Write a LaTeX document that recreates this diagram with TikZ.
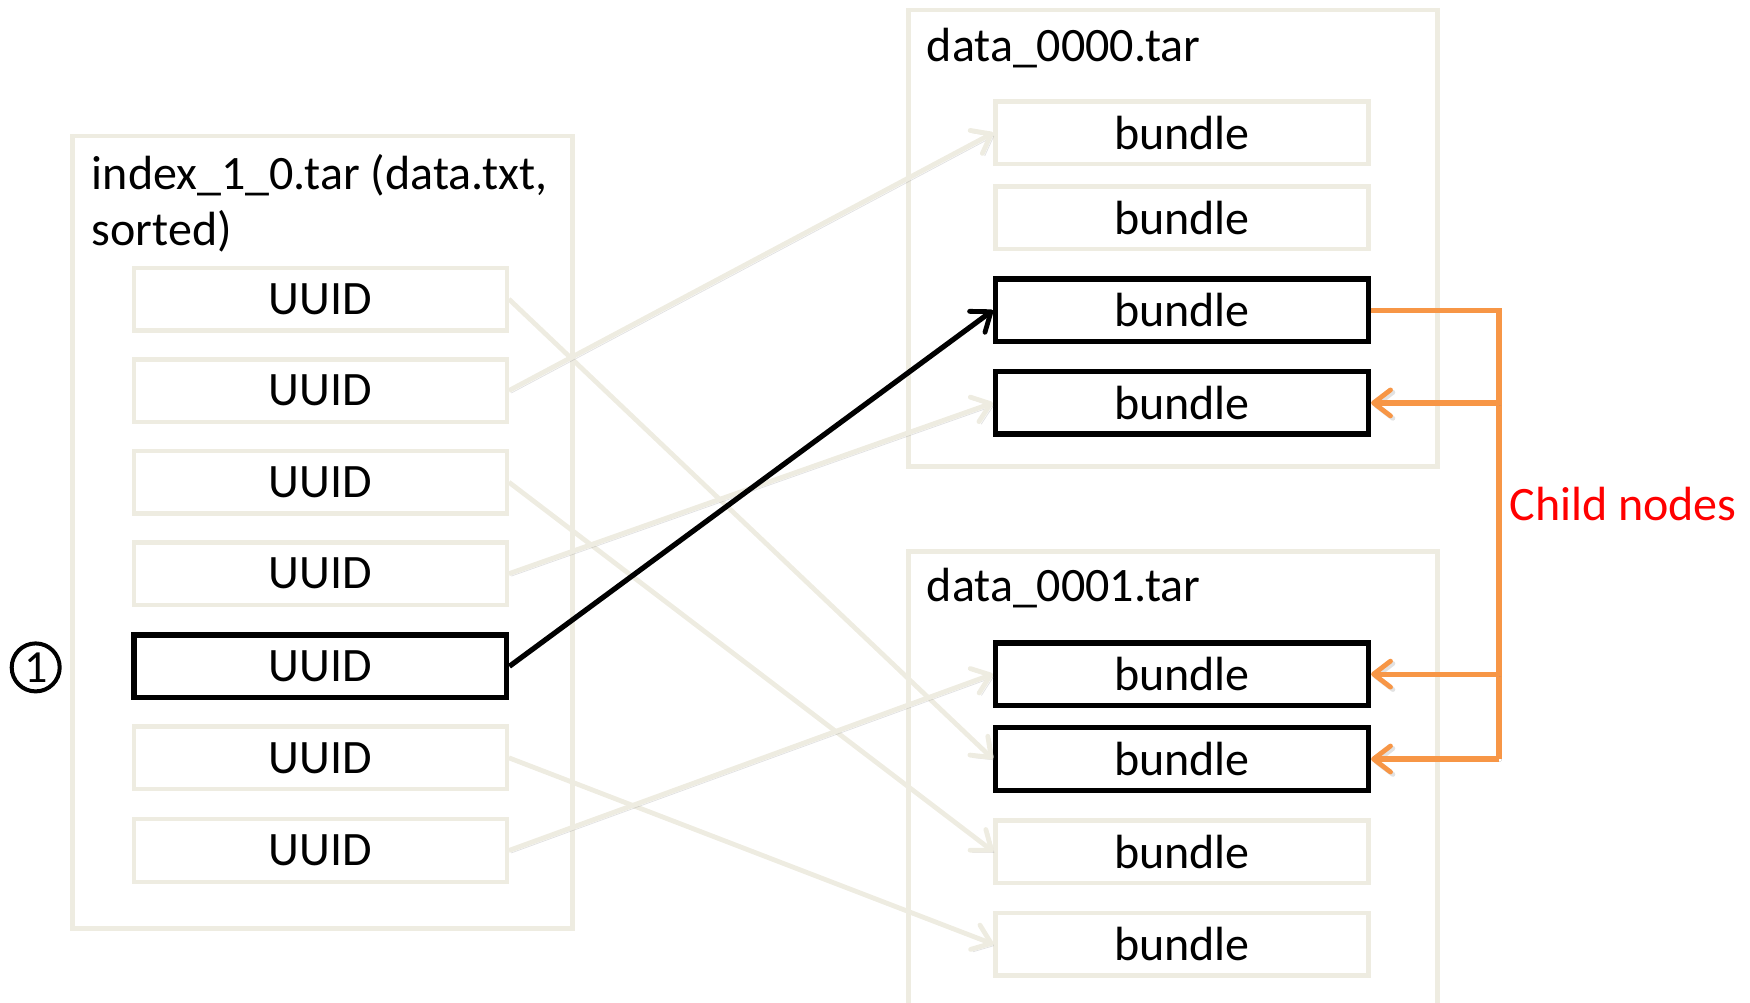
\documentclass[tikz,border=0pt]{standalone}
\usepackage{fontspec}
\setmainfont{Carlito}
\usetikzlibrary{arrows.meta}
\definecolor{lightbox}{HTML}{EEECE1}
\definecolor{orangeline}{HTML}{F79646}
\definecolor{childred}{HTML}{FF0000}
\tikzset{
  container/.style={draw=lightbox, line width=2.2pt, anchor=north west, inner sep=0pt},
  item/.style={draw=lightbox, line width=2.2pt, minimum width=186.4pt, minimum height=31.25pt, inner sep=0pt, font=\fontsize{24}{28}\selectfont},
  itembold/.style={item, draw=black, line width=2.7pt},
  titletext/.style={anchor=west, inner sep=0pt, align=left, font=\fontsize{24}{28}\selectfont},
  softshadow/.style={preaction={draw=black!45, opacity=0.25, transform canvas={shift={(1.2pt,-1.2pt)}}}},
  tipshape/.style={-{Straight Barb[length=8.5pt,width=13pt,line width=2.4pt,round]}},
  lightarrow/.style={softshadow, draw=lightbox, line width=2.4pt, tipshape},
  boldarrow/.style={draw=black, line width=2.6pt, tipshape},
  orangearrow/.style={softshadow, draw=orangeline, line width=2.6pt, tipshape},
  orangeline/.style={softshadow, draw=orangeline, line width=2.6pt},
}
\begin{document}
\begin{tikzpicture}[x=0.5pt,y=-0.5pt]
\useasboundingbox (0,0) rectangle (1750,1002);
% containers
\node[container, minimum width=250pt, minimum height=396.25pt] (leftbox) at (70.3,133.9) {};
\node[container, minimum width=264.5pt, minimum height=228.25pt] (topbox) at (906.3,7.8) {};
\node[container, minimum width=264.5pt, minimum height=235pt] (botbox) at (906.3,549.1) {};
% titles
\node[titletext] (lefttitle) at (91.5,203) {index\_1\_0.tar (data.txt,\\sorted)};
\node[titletext] (toptitle) at (926.4,48) {data\_0000.tar};
\node[titletext] (bottitle) at (926.4,588.2) {data\_0001.tar};
% UUID column
\node[item] (u1) at (320.3,299.1) {UUID};
\node[item] (u2) at (320.3,390.6) {UUID};
\node[item] (u3) at (320.3,482.2) {UUID};
\node[item] (u4) at (320.3,573.7) {UUID};
\node[itembold] (u5) at (320.3,666.3) {UUID};
\node[item] (u6) at (320.3,757.8) {UUID};
\node[item] (u7) at (320.3,850.5) {UUID};
% bundles top
\node[item] (a1) at (1182,132.8) {bundle};
\node[item] (a2) at (1182,217.6) {bundle};
\node[itembold] (a3) at (1182,310.3) {bundle};
\node[itembold] (a4) at (1182,402.9) {bundle};
% bundles bottom
\node[itembold] (b1) at (1182,674.1) {bundle};
\node[itembold] (b2) at (1182,759) {bundle};
\node[item] (b3) at (1182,851.6) {bundle};
\node[item] (b4) at (1182,944.2) {bundle};
% marker
\node[circle, draw=black, line width=2pt, minimum size=24pt, inner sep=0pt, font=\fontsize{23}{26}\selectfont] (one) at (35.7,667.4) {1};
% light connectors
\draw[lightarrow] (u1.east) -- (b2.west);
\draw[lightarrow] (u2.east) -- (a1.west);
\draw[lightarrow] (u3.east) -- (b3.west);
\draw[lightarrow] (u4.east) -- (a4.west);
\draw[lightarrow] (u6.east) -- (b4.west);
\draw[lightarrow] (u7.east) -- (b1.west);
% bold connector
\draw[boldarrow] (u5.east) -- (a3.west);
% orange child links
\coordinate (trunk) at (1499,310.3);
\draw[orangeline] (a3.east) -- (trunk) -- (trunk |- b2.east);
\draw[orangearrow] (trunk |- a4.east) -- (a4.east);
\draw[orangearrow] (trunk |- b1.east) -- (b1.east);
\draw[orangearrow] (trunk |- b2.east) -- (b2.east);
\node[anchor=west, inner sep=0pt, text=childred, font=\fontsize{24}{28}\selectfont] (childlabel) at (1509,504.5) {Child nodes};
\end{tikzpicture}
\end{document}
